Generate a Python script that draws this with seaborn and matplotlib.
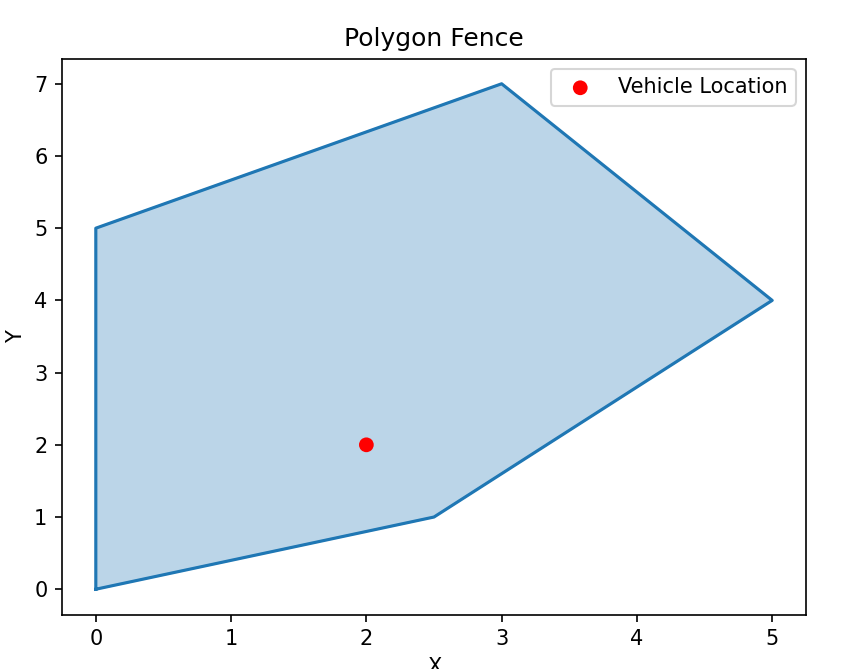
import numpy as np
import pandas as pd
import seaborn as sns
import matplotlib.pyplot as plt

# Fence polygon vertices (closed)
fence_x = [0, 2.5, 5, 3, 0, 0]
fence_y = [0, 1, 4, 7, 5, 0]

# Vehicle position
vehicle_x = [2]
vehicle_y = [2]

df_fence = pd.DataFrame({'X': fence_x, 'Y': fence_y})
df_vehicle = pd.DataFrame({'X': vehicle_x, 'Y': vehicle_y})

fig = plt.figure(figsize=(8.49 / 1.5, 6.69 / 1.5), dpi=150)
ax = fig.add_axes([62 / 849, 54.5 / 669, 744 / 849, 556 / 669])

# Outline and fill of the fence
ax.fill(df_fence['X'], df_fence['Y'], alpha=0.3, color='tab:blue')
sns.lineplot(data=df_fence, x='X', y='Y', sort=False, estimator=None,
             color='tab:blue', linewidth=1.5, ax=ax)

# Vehicle location
sns.scatterplot(data=df_vehicle, x='X', y='Y', color='red', s=50,
                edgecolor='none', label='Vehicle Location', ax=ax, zorder=3)

ax.set_title('Polygon Fence')
ax.set_xlabel('X')
ax.set_ylabel('Y')
ax.legend(loc='upper right')

fig.savefig('out.png', dpi=150)
